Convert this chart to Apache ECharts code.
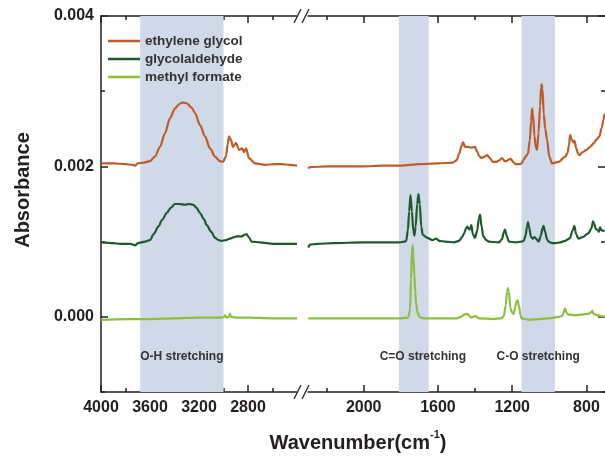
<!DOCTYPE html>
<html>
<head>
<meta charset="utf-8">
<script src="https://cdn.jsdelivr.net/npm/echarts@6/dist/echarts.min.js"></script>
<style>
  html, body { margin: 0; padding: 0; background: #fff; }
  #main { width: 605px; height: 457px; }
</style>
</head>
<body>
<div id="main"></div>
<script>
// spectra: [wavenumber, absorbance]
var egLeft = [[4000,0.00204],[3900,0.00204],[3800,0.00203],[3740,0.00202],[3722,0.00201],[3700,0.00204],[3650,0.00205],[3600,0.00207],[3560,0.00213],[3518,0.00226],[3478,0.00244],[3437,0.00264],[3396,0.00277],[3360,0.00283],[3339,0.00285],[3300,0.00284],[3260,0.00278],[3233,0.00271],[3192,0.00255],[3151,0.00240],[3110,0.00224],[3069,0.00213],[3029,0.00207],[3004,0.00206],[2980,0.00213],[2965,0.00230],[2955,0.00240],[2939,0.00235],[2922,0.00226],[2898,0.00231],[2873,0.00222],[2849,0.00224],[2832,0.00219],[2816,0.00224],[2792,0.00211],[2743,0.00204],[2661,0.00202],[2580,0.00203],[2522,0.00203],[2460,0.00202],[2400,0.00201]];
var egRight = [[2298,0.00197],[2290,0.00199],[2200,0.00200],[2100,0.00200],[2000,0.00200],[1900,0.00201],[1800,0.00201],[1700,0.00203],[1600,0.00204],[1520,0.00205],[1500,0.00208],[1485,0.00217],[1472,0.00228],[1464,0.00232],[1455,0.00226],[1440,0.00226],[1420,0.00225],[1400,0.00226],[1390,0.00220],[1378,0.00214],[1365,0.00211],[1350,0.00213],[1335,0.00215],[1320,0.00211],[1305,0.00206],[1285,0.00206],[1270,0.00208],[1255,0.00211],[1240,0.00207],[1230,0.00207],[1220,0.00209],[1208,0.00210],[1195,0.00206],[1180,0.00203],[1160,0.00203],[1150,0.00204],[1135,0.00210],[1125,0.00214],[1115,0.00217],[1105,0.00235],[1098,0.00260],[1093,0.00277],[1088,0.00270],[1080,0.00240],[1072,0.00225],[1066,0.00222],[1058,0.00245],[1050,0.00280],[1044,0.00305],[1041,0.00309],[1037,0.00303],[1030,0.00270],[1022,0.00250],[1012,0.00235],[1000,0.00213],[986,0.00204],[950,0.00206],[914,0.00213],[902,0.00218],[894,0.00228],[888,0.00242],[880,0.00236],[870,0.00232],[864,0.00234],[855,0.00224],[845,0.00217],[838,0.00215],[820,0.00219],[800,0.00222],[780,0.00226],[760,0.00231],[745,0.00236],[730,0.00240],[718,0.00251],[708,0.00262],[702,0.00270]];
var gaLeft = [[4000,0.00099],[3900,0.00098],[3845,0.00097],[3760,0.00097],[3722,0.00095],[3700,0.00098],[3640,0.00100],[3600,0.00102],[3570,0.00110],[3532,0.00120],[3500,0.00129],[3464,0.00138],[3430,0.00145],[3396,0.00150],[3360,0.00150],[3314,0.00149],[3280,0.00150],[3247,0.00149],[3220,0.00145],[3192,0.00138],[3160,0.00130],[3137,0.00122],[3100,0.00113],[3069,0.00105],[3040,0.00102],[3015,0.00101],[2980,0.00102],[2947,0.00104],[2910,0.00106],[2892,0.00107],[2851,0.00107],[2830,0.00109],[2811,0.00110],[2795,0.00106],[2770,0.00100],[2702,0.00099],[2593,0.00097],[2500,0.00097],[2400,0.00097]];
var gaRight = [[2298,0.00092],[2290,0.00096],[2250,0.00097],[2164,0.00098],[2000,0.00099],[1900,0.00099],[1807,0.00099],[1780,0.00100],[1771,0.00101],[1762,0.00115],[1755,0.00140],[1748,0.00162],[1740,0.00140],[1733,0.00115],[1727,0.00108],[1720,0.00120],[1712,0.00150],[1705,0.00163],[1698,0.00150],[1690,0.00120],[1682,0.00109],[1656,0.00105],[1630,0.00102],[1610,0.00104],[1593,0.00101],[1560,0.00100],[1513,0.00099],[1486,0.00101],[1470,0.00106],[1459,0.00111],[1448,0.00118],[1441,0.00120],[1435,0.00117],[1429,0.00116],[1420,0.00122],[1412,0.00110],[1400,0.00105],[1388,0.00115],[1380,0.00130],[1373,0.00136],[1365,0.00120],[1356,0.00107],[1340,0.00102],[1325,0.00100],[1272,0.00099],[1255,0.00103],[1246,0.00112],[1239,0.00116],[1230,0.00108],[1218,0.00100],[1182,0.00099],[1150,0.00100],[1138,0.00101],[1128,0.00108],[1120,0.00120],[1115,0.00126],[1108,0.00118],[1098,0.00106],[1089,0.00104],[1080,0.00106],[1072,0.00104],[1057,0.00100],[1045,0.00108],[1038,0.00117],[1031,0.00121],[1024,0.00114],[1012,0.00103],[1004,0.00100],[985,0.00098],[968,0.00098],[940,0.00099],[914,0.00101],[900,0.00103],[888,0.00105],[876,0.00114],[865,0.00121],[856,0.00110],[843,0.00104],[820,0.00106],[790,0.00111],[772,0.00118],[765,0.00127],[758,0.00124],[750,0.00117],[739,0.00115],[733,0.00113],[727,0.00119],[718,0.00115],[702,0.00114]];
var mfLeft = [[4000,-0.00004],[3800,-0.00003],[3600,-0.00003],[3400,-0.00002],[3200,-0.00001],[3020,-0.00001],[2995,0.00000],[2988,0.00002],[2975,-0.00001],[2955,0.00000],[2947,0.00004],[2938,0.00000],[2900,-0.00001],[2800,-0.00001],[2600,-0.00002],[2400,-0.00002]];
var mfRight = [[2298,-0.00002],[2200,-0.00002],[2000,-0.00002],[1800,-0.00002],[1760,-0.00001],[1750,0.00010],[1745,0.00050],[1740,0.00088],[1736,0.00095],[1732,0.00080],[1727,0.00054],[1722,0.00032],[1718,0.00018],[1710,0.00006],[1700,0.00000],[1680,-0.00002],[1600,-0.00002],[1500,-0.00002],[1475,0.00000],[1459,0.00003],[1441,0.00004],[1430,0.00001],[1423,-0.00001],[1396,0.00001],[1380,-0.00002],[1300,-0.00003],[1260,-0.00002],[1245,0.00001],[1235,0.00015],[1228,0.00033],[1223,0.00038],[1218,0.00033],[1210,0.00012],[1200,0.00005],[1192,0.00004],[1185,0.00012],[1178,0.00020],[1171,0.00022],[1163,0.00014],[1155,0.00002],[1150,-0.00002],[1111,-0.00004],[1050,-0.00003],[1004,-0.00002],[950,0.00000],[932,0.00001],[925,0.00004],[918,0.00010],[914,0.00011],[908,0.00006],[897,0.00003],[860,0.00002],[825,0.00003],[790,0.00004],[775,0.00006],[768,0.00008],[762,0.00004],[740,0.00002],[720,0.00001],[702,0.00000]];

var names = ['ethylene glycol', 'glycolaldehyde', 'methyl formate'];
var colors = ['#c05b27', '#1e5a2d', '#8cbf3f'];

var bandOH = [3680, 3000];
var bandCeqO = [1810, 1650];
var bandCO = [1150, 970];

var leftMajor = [2800, 3200, 3600, 4000];
var leftMinor = [2600, 3000, 3400, 3800];
var rightMajor = [800, 1200, 1600, 2000];
var rightMinor = [1000, 1400, 1800, 2200];
var yMajor = [0, 0.002, 0.004];
var yMinor = [-0.001, 0.001, 0.003];

var ink = '#231f20';
var font = 'Liberation Sans, Arial, sans-serif';

function xAx(grid, min, max, pos, ticks, len, labels, line) {
  return {
    type: 'value', gridIndex: grid, min: min, max: max, inverse: true, position: pos,
    axisLine: { show: line, onZero: false, lineStyle: { color: ink, width: 1.5 } },
    axisTick: { show: true, inside: true, length: len, customValues: ticks, lineStyle: { color: ink, width: 1.5 } },
    axisLabel: labels ? { show: true, customValues: ticks, margin: 8, color: ink, fontSize: 16, fontWeight: 'bold', fontFamily: font,
      formatter: function (v) { return String(v); } } : { show: false },
    splitLine: { show: false }
  };
}
function yAx(grid, pos, ticks, len, labels, line) {
  return {
    type: 'value', gridIndex: grid, min: -0.001, max: 0.004, position: pos,
    axisLine: { show: line, onZero: false, lineStyle: { color: ink, width: 1.5 } },
    axisTick: { show: true, inside: true, length: len, customValues: ticks, lineStyle: { color: ink, width: 1.5 } },
    axisLabel: labels ? { show: true, customValues: ticks, margin: 7, color: ink, fontSize: 16, fontWeight: 'bold', fontFamily: font,
      formatter: function (v) { return v.toFixed(3); } } : { show: false },
    splitLine: { show: false }
  };
}

var bandLabel = { show: true, position: 'insideBottom', distance: 29, color: '#333', fontSize: 12, fontWeight: 'bold', fontFamily: font };
var bandStyle = { color: '#cfd9e7' };

function spectrum(i, data, right) {
  return {
    name: names[i], type: 'line', data: data,
    xAxisIndex: right ? 4 : 0, yAxisIndex: right ? 2 : 0,
    symbol: 'none', smooth: 0.3, smoothMonotone: 'x', z: 3,
    color: colors[i], lineStyle: { color: colors[i], width: 2.2 }
  };
}

var series = [
  spectrum(0, egLeft, false), spectrum(1, gaLeft, false), spectrum(2, mfLeft, false),
  spectrum(0, egRight, true), spectrum(1, gaRight, true), spectrum(2, mfRight, true)
];
series[0].markArea = { silent: true, itemStyle: bandStyle, label: bandLabel,
  data: [[{ xAxis: bandOH[0], name: 'O-H stretching' }, { xAxis: bandOH[1] }]] };
series[3].markArea = { silent: true, itemStyle: bandStyle, label: bandLabel,
  data: [
    [{ xAxis: bandCeqO[0], name: 'C=O stretching', label: { offset: [9, 0] } }, { xAxis: bandCeqO[1] }],
    [{ xAxis: bandCO[0], name: 'C-O stretching' }, { xAxis: bandCO[1] }]
  ] };

function breakMark(y) {
  return [
    { type: 'line', shape: { x1: 294, y1: y + 7, x2: 301, y2: y - 7 }, style: { stroke: ink, lineWidth: 1.3 } },
    { type: 'line', shape: { x1: 302, y1: y + 7, x2: 309, y2: y - 7 }, style: { stroke: ink, lineWidth: 1.3 } }
  ];
}

var myChart = echarts.init(document.getElementById('main'));
myChart.setOption({
  animation: false,
  backgroundColor: '#fff',
  grid: [
    { left: 101, top: 16, width: 196, height: 376 },
    { left: 308, top: 16, width: 299, height: 376 }
  ],
  xAxis: [
    xAx(0, 2400, 4000, 'bottom', leftMajor, 7, true, true),
    xAx(0, 2400, 4000, 'bottom', leftMinor, 4, false, false),
    xAx(0, 2400, 4000, 'top', leftMajor, 7, false, true),
    xAx(0, 2400, 4000, 'top', leftMinor, 4, false, false),
    xAx(1, 700, 2300, 'bottom', rightMajor, 7, true, true),
    xAx(1, 700, 2300, 'bottom', rightMinor, 4, false, false),
    xAx(1, 700, 2300, 'top', rightMajor, 7, false, true),
    xAx(1, 700, 2300, 'top', rightMinor, 4, false, false)
  ],
  yAxis: [
    yAx(0, 'left', yMajor, 7, true, true),
    yAx(0, 'left', yMinor, 4, false, false),
    yAx(1, 'right', yMajor, 7, false, false),
    yAx(1, 'right', yMinor, 4, false, false)
  ],
  legend: {
    data: names, orient: 'vertical', left: 108, top: 34, padding: 0, itemGap: 4,
    icon: 'rect', itemWidth: 32, itemHeight: 2.5,
    textStyle: { color: '#333', fontSize: 13.5, fontWeight: 'bold', fontFamily: font, lineHeight: 14 }
  },
  graphic: breakMark(16).concat(breakMark(392)).concat([
    { type: 'text', x: 23, y: 190, rotation: Math.PI / 2,
      style: { text: 'Absorbance', fill: ink, font: 'bold 20px ' + font, align: 'center', verticalAlign: 'middle' } },
    { type: 'text', x: 358, y: 441,
      style: {
        text: '{a|Wavenumber(cm}{s|-1}{a|)}', align: 'center', verticalAlign: 'middle',
        rich: {
          a: { fill: ink, fontSize: 20, fontWeight: 'bold', fontFamily: font, lineHeight: 24, verticalAlign: 'bottom' },
          s: { fill: ink, fontSize: 11, fontWeight: 'bold', fontFamily: font, lineHeight: 12, verticalAlign: 'top' }
        }
      } }
  ]),
  series: series
});
</script>
</body>
</html>
